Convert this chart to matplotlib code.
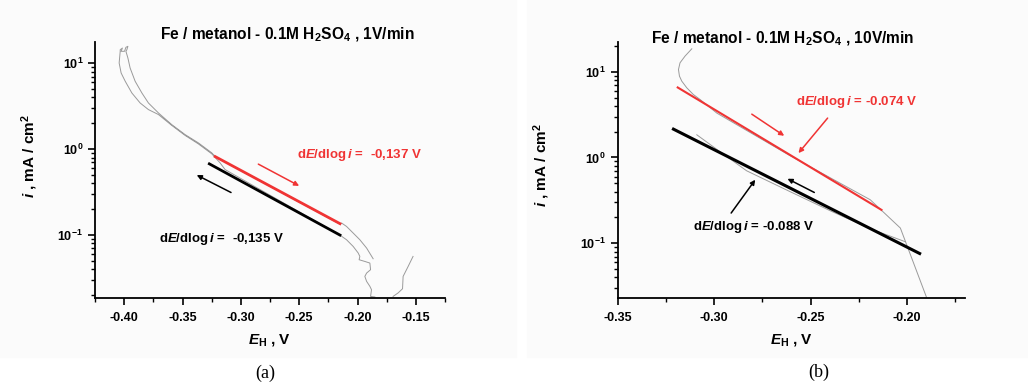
import numpy as np
import matplotlib
matplotlib.use("Agg")
import matplotlib.pyplot as plt
from matplotlib.patches import Rectangle
from matplotlib.ticker import MultipleLocator, LogLocator, NullFormatter, FormatStrFormatter

plt.rcParams.update({
    "font.family": ["Liberation Sans", "DejaVu Sans"],
    "font.weight": "bold",
    "axes.labelweight": "bold",
    "mathtext.fontset": "custom",
    "mathtext.rm": "Liberation Sans:bold",
    "mathtext.bf": "Liberation Sans:bold",
    "mathtext.it": "Liberation Sans:italic:bold",
})

# ---------------- panel (a): 1 V/min ----------------
a_scan1_E = [-0.1866, -0.1922, -0.1980, -0.2037, -0.2094, -0.2136, -0.2151, -0.3221,
             -0.3249, -0.3364, -0.3478, -0.3592, -0.3706, -0.3792, -0.3848, -0.3906,
             -0.3949, -0.3968, -0.3985, -0.3977, -0.3968, -0.3985, -0.3997, -0.4026,
             -0.4015, -0.4034, -0.4034, -0.4043, -0.4026, -0.3991, -0.3934, -0.3863,
             -0.3792, -0.3706, -0.3592, -0.3478, -0.3364, -0.3249, -0.3178, -0.3135,
             -0.2151, -0.2094, -0.2037, -0.1994, -0.1980, -0.1986, -0.1937, -0.1894,
             -0.1888, -0.1922, -0.1937, -0.1922, -0.1894, -0.1880, -0.1888, -0.1851]
a_scan1_i = [0.0530, 0.0706, 0.0882, 0.1055, 0.126, 0.138, 0.134, 0.820,
             0.906, 1.184, 1.479, 1.932, 2.64, 3.45, 4.51, 6.18,
             8.82, 11.52, 13.79, 14.39, 15.77, 15.35, 13.79, 13.79,
             15.06, 14.39, 13.79, 10.08, 7.71, 6.18, 4.51, 3.45,
             2.89, 2.53, 1.891, 1.447, 1.152, 0.882, 0.693, 0.579,
             0.100, 0.0882, 0.0737, 0.0618, 0.0564, 0.0516, 0.0493, 0.0472,
             0.0395, 0.0361, 0.0330, 0.0289, 0.0253, 0.0231, 0.0193, 0.0190]
a_scan2_E = [-0.1695, -0.1652, -0.1614, -0.1609, -0.1566, -0.1524]
a_scan2_i = [0.0193, 0.0212, 0.0237, 0.0330, 0.0431, 0.0564]

a_fit_fwd_E = [-0.322, -0.215]
a_fit_fwd_i0 = 0.82
a_fit_fwd_slope = -0.137
a_fit_back_E = [-0.327, -0.215]
a_fit_back_i0 = 0.675
a_fit_back_slope = -0.135

# ---------------- panel (b): 10 V/min ----------------
b_scan1_E = [-0.1900, -0.2035, -0.2191, -0.2606, -0.2986, -0.3073, -0.3108,
             -0.3142, -0.3168, -0.3180, -0.3185, -0.3177, -0.3151, -0.3116]
b_scan1_i = [0.0236, 0.1504, 0.3214, 1.047, 3.29, 4.74, 5.42,
             6.49, 7.77, 8.89, 10.61, 12.70, 15.20, 18.49]
b_scan2_E = [-0.3090, -0.2969, -0.2832, -0.2605, -0.2398, -0.2191, -0.2009]
b_scan2_i = [1.839, 1.165, 0.700, 0.398, 0.239, 0.1476, 0.1041]

b_fit_fwd_E = [-0.3189, -0.2133]
b_fit_fwd_i0 = 6.55
b_fit_fwd_slope = -0.074
b_fit_back_E = [-0.3211, -0.1935]
b_fit_back_i0 = 2.14
b_fit_back_slope = -0.088


def tafel_line(E, i0, slope):
    E = np.asarray(E, dtype=float)
    return i0 * 10 ** ((E - E[0]) / slope)


RED = "#f03434"
GRAY = "#9a9a9a"

fig = plt.figure(figsize=(10.28, 3.87), dpi=100)
fig.patch.set_facecolor("white")
fig.add_artist(Rectangle((0, 1 - 357 / 387), 516 / 1028, 357 / 387,
                         transform=fig.transFigure, color="#fbfbfb", zorder=0))
fig.add_artist(Rectangle((527 / 1028, 1 - 357 / 387), 1 - 527 / 1028, 357 / 387,
                         transform=fig.transFigure, color="#fbfbfb", zorder=0))

axA = fig.add_axes([95 / 1028, 1 - 298 / 387, 350 / 1028, 256 / 387])
axB = fig.add_axes([617.7 / 1028, 1 - 298 / 387, 347.3 / 1028, 256 / 387])


def style_axes(ax, xlim, ylim, major, minor):
    ax.set_facecolor("none")
    ax.set_yscale("log")
    ax.set_xlim(*xlim)
    ax.set_ylim(*ylim)
    for s in ("top", "right"):
        ax.spines[s].set_visible(False)
    for s in ("left", "bottom"):
        ax.spines[s].set_linewidth(1.3)
    ax.xaxis.set_major_locator(MultipleLocator(major))
    ax.xaxis.set_minor_locator(MultipleLocator(minor))
    ax.xaxis.set_major_formatter(FormatStrFormatter("%.2f"))
    ax.yaxis.set_major_locator(LogLocator(base=10, numticks=10))
    ax.yaxis.set_minor_locator(LogLocator(base=10, subs=np.arange(2, 10), numticks=10))
    ax.yaxis.set_minor_formatter(NullFormatter())
    ax.tick_params(which="major", direction="out", length=5, width=1.2, labelsize=9)
    ax.tick_params(which="minor", direction="out", length=3, width=1.0)
    ax.tick_params(axis="x", which="major", pad=5)
    for lab in ax.get_xticklabels() + ax.get_yticklabels():
        lab.set_fontweight("bold")
    ax.set_xlabel(r"$E_{\mathrm{H}}$ , V", fontsize=11, labelpad=6)
    ax.set_ylabel(r"$i$ , mA / cm$^2$", fontsize=11)


def arrow(ax, start, end, color, lw=1.1):
    ax.annotate("", xy=end, xytext=start,
                arrowprops=dict(arrowstyle="-|>", color=color, lw=lw,
                                mutation_scale=7, shrinkA=0, shrinkB=0))


# panel (a)
style_axes(axA, (-0.425, -0.125), (0.0185, 17.7), 0.05, 0.025)
axA.yaxis.set_label_coords(-0.157, 0.555)
axA.plot(a_scan1_E, a_scan1_i, color=GRAY, lw=0.7, zorder=2)
axA.plot(a_scan2_E, a_scan2_i, color=GRAY, lw=0.7, zorder=2)
axA.plot(a_fit_fwd_E, tafel_line(a_fit_fwd_E, a_fit_fwd_i0, a_fit_fwd_slope),
         color=RED, lw=2.0, zorder=3)
axA.plot(a_fit_back_E, tafel_line(a_fit_back_E, a_fit_back_i0, a_fit_back_slope),
         color="black", lw=2.0, zorder=3)
arrow(axA, (-0.285, 0.67), (-0.250, 0.374), RED)
arrow(axA, (-0.3084, 0.313), (-0.3378, 0.50), "black")
axA.text(-0.252, 0.86, r"d$E$/dlog$\,i$ =  -0,137 V", color=RED, fontsize=9.5,
         ha="left", va="center")
axA.text(-0.3698, 0.0906, r"d$E$/dlog$\,i$ =  -0,135 V", color="black", fontsize=9.5,
         ha="left", va="center")
fig.text(287 / 1028, 1 - 35 / 387,
         r"Fe / metanol - 0.1M H$_2$SO$_4$ , 1V/min", fontsize=11.2,
         ha="center", va="center")
fig.text(265 / 1028, 1 - 373 / 387, "(a)", fontsize=13, family="Liberation Serif",
         fontweight="normal", ha="center", va="center")

# panel (b)
style_axes(axB, (-0.35, -0.17), (0.023, 22.2), 0.05, 0.025)
axB.yaxis.set_label_coords(-0.189, 0.521)
axB.plot(b_scan1_E, b_scan1_i, color=GRAY, lw=0.7, zorder=2)
axB.plot(b_scan2_E, b_scan2_i, color=GRAY, lw=0.7, zorder=2)
axB.plot(b_fit_fwd_E, tafel_line(b_fit_fwd_E, b_fit_fwd_i0, b_fit_fwd_slope),
         color=RED, lw=1.5, zorder=3)
axB.plot(b_fit_back_E, tafel_line(b_fit_back_E, b_fit_back_i0, b_fit_back_slope),
         color="black", lw=2.2, zorder=3)
arrow(axB, (-0.2805, 3.20), (-0.2637, 1.79), RED)
arrow(axB, (-0.2412, 2.88), (-0.2563, 1.125), RED)
arrow(axB, (-0.2481, 0.391), (-0.2620, 0.565), "black")
arrow(axB, (-0.2912, 0.225), (-0.2787, 0.550), "black")
axB.text(-0.2575, 4.49, r"d$E$/dlog$\,i$ = -0.074 V", color=RED, fontsize=9.5,
         ha="left", va="center")
axB.text(-0.3108, 0.153, r"d$E$/dlog$\,i$ = -0.088 V", color="black", fontsize=9.5,
         ha="left", va="center")
fig.text(783 / 1028, 1 - 39 / 387,
         r"Fe / metanol - 0.1M H$_2$SO$_4$ , 10V/min", fontsize=11.2,
         ha="center", va="center")
fig.text(819 / 1028, 1 - 372 / 387, "(b)", fontsize=13, family="Liberation Serif",
         fontweight="normal", ha="center", va="center")

fig.savefig("out.png", dpi=100)
